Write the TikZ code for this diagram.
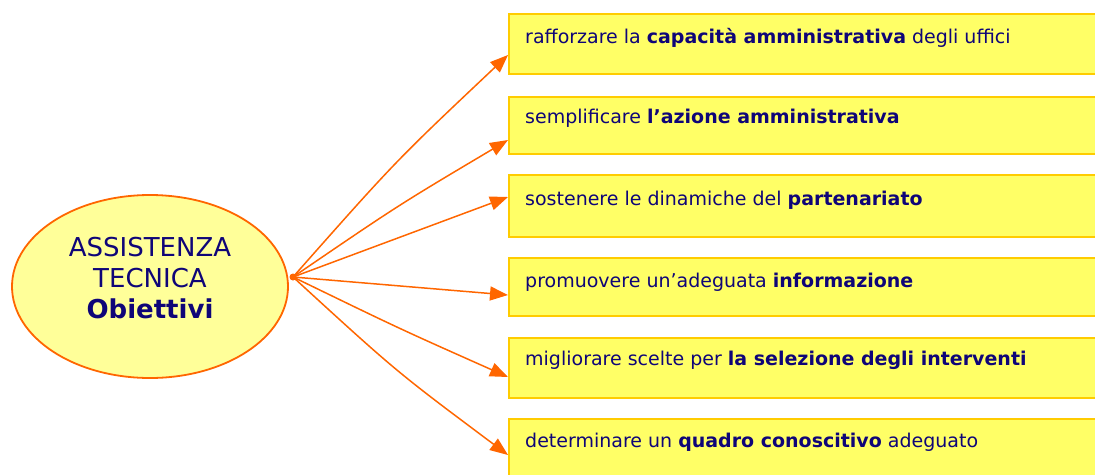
\documentclass[tikz,border=0pt]{standalone}
\usepackage{fontspec}
\setmainfont{DejaVu Sans}
\usetikzlibrary{arrows.meta,shapes.geometric,calc}
\definecolor{navy}{RGB}{15,5,120}
\definecolor{arrowor}{RGB}{255,102,0}
\definecolor{boxfill}{RGB}{255,255,102}
\definecolor{boxline}{RGB}{255,204,0}
\definecolor{ellfill}{RGB}{255,255,153}
\tikzset{
  goal/.style={draw=boxline, line width=2pt, fill=boxfill, minimum width=600pt, minimum height=#1, anchor=north west, inner sep=0pt},
  goaltext/.style={anchor=base west, text=navy, font=\fontsize{19}{22}\selectfont, inner sep=0pt},
  link/.style={draw=arrowor, line width=1.5pt, -{Triangle[length=18pt,width=14pt]}},
}
\begin{document}
\begin{tikzpicture}[x=1pt,y=-1pt]
\useasboundingbox (0,0) rectangle (1095,474);
% central ellipse
\node[draw=arrowor, line width=1.8pt, fill=ellfill, ellipse, minimum width=276pt, minimum height=183pt, inner sep=0pt] (ell) at (150,286.5) {};
\node[align=center, text=navy, font=\fontsize{26}{31}\selectfont, inner sep=0pt, anchor=base] (elltext) at (150,318) {ASSISTENZA\\TECNICA\\\textbf{Obiettivi}};
\coordinate (hub) at (293,277);
% boxes
\node[goal=60pt] (b1) at (508,13) {};
\node[goal=57pt] (b2) at (508,96) {};
\node[goal=62pt] (b3) at (508,174) {};
\node[goal=58pt] (b4) at (508,257) {};
\node[goal=60pt] (b5) at (508,337) {};
\node[goal=70pt] (b6) at (508,418) {};
\node[goaltext] (t1) at (525,43) {rafforzare la \textbf{capacità amministrativa} degli uffici};
\node[goaltext] (t2) at (525,123) {semplificare \textbf{l’azione amministrativa}};
\node[goaltext] (t3) at (525,205) {sostenere le dinamiche del \textbf{partenariato}};
\node[goaltext] (t4) at (525,287) {promuovere un’adeguata \textbf{informazione}};
\node[goaltext] (t5) at (525,365) {migliorare scelte per \textbf{la selezione degli interventi}};
\node[goaltext] (t6) at (525,447) {determinare un \textbf{quadro conoscitivo} adeguato};
% arrow targets
\coordinate (e1) at (b1.west |- 0,55);
\coordinate (e2) at (b2.west |- 0,140);
\coordinate (e3) at (b3.west |- 0,197);
\coordinate (e4) at (b4.west |- 0,295);
\coordinate (e5) at (b5.west |- 0,377);
\coordinate (e6) at (b6.west |- 0,455);
\fill[arrowor] (hub) circle (3.5pt);
\draw[link] (hub) .. controls ($(hub)!0.5!(e1)!7pt!90:(e1)$) .. (e1);
\draw[link] (hub) .. controls ($(hub)!0.5!(e2)!4pt!90:(e2)$) .. (e2);
\draw[link] (hub) -- (e3);
\draw[link] (hub) -- (e4);
\draw[link] (hub) .. controls ($(hub)!0.5!(e5)!2pt!-90:(e5)$) .. (e5);
\draw[link] (hub) .. controls ($(hub)!0.5!(e6)!7pt!-90:(e6)$) .. (e6);
\end{tikzpicture}
\end{document}
